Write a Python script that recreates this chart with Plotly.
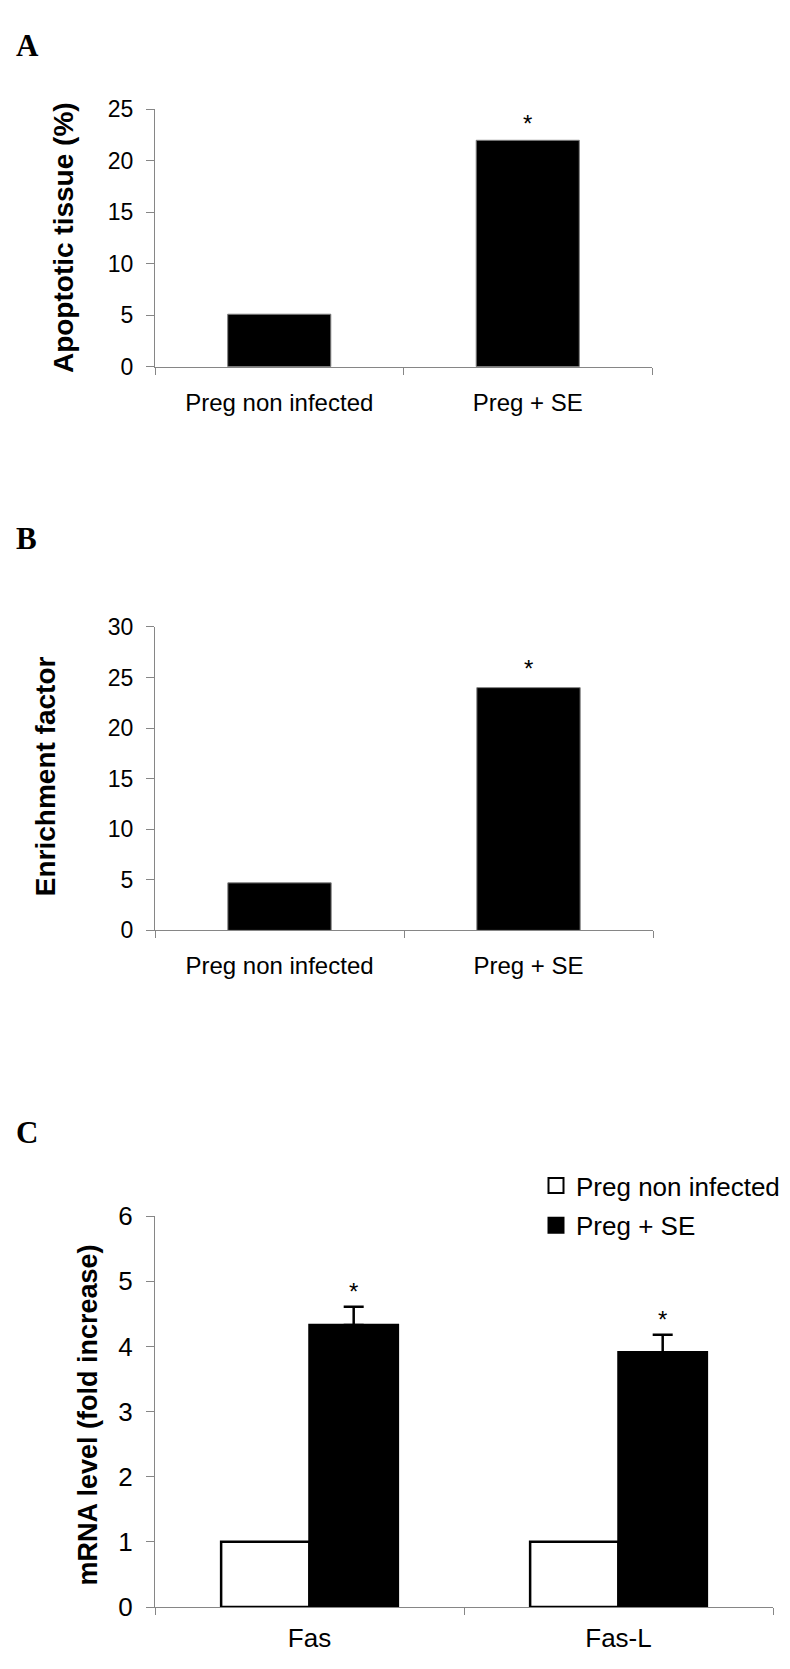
import plotly.graph_objects as go

# ---------------- data ----------------
groups_ab = ["Preg non infected", "Preg + SE"]
apoptotic_tissue = [5.1, 22.0]
enrichment_factor = [4.7, 24.0]

genes = ["Fas", "Fas-L"]
series_names = ["Preg non infected", "Preg + SE"]
mrna_non_infected = [1.0, 1.0]
mrna_se = [4.33, 3.91]
mrna_se_err = [0.28, 0.27]

yticks_a = [0, 5, 10, 15, 20, 25]
yticks_b = [0, 5, 10, 15, 20, 25, 30]
yticks_c = [0, 1, 2, 3, 4, 5, 6]

# ---------------- layout helpers ----------------
W, H = 790, 1669
def px_x(x):
    return x / W
def px_y(y):
    return 1 - y / H

SANS = "Arial, Liberation Sans, sans-serif"
SERIF = "Times New Roman, Liberation Serif, serif"
AXC = "#868686"

fig = go.Figure()

# Panel A
fig.add_trace(go.Bar(x=groups_ab, y=apoptotic_tissue, xaxis="x", yaxis="y",
                     marker=dict(color="black", line=dict(color="#808080", width=1)),
                     width=0.415, showlegend=False))
# Panel B
fig.add_trace(go.Bar(x=groups_ab, y=enrichment_factor, xaxis="x2", yaxis="y2",
                     marker=dict(color="black", line=dict(color="#808080", width=1)),
                     width=0.415, showlegend=False))
# Panel C
fig.add_trace(go.Bar(x=genes, y=mrna_non_infected, xaxis="x3", yaxis="y3",
                     name=series_names[0], showlegend=False,
                     marker=dict(color="white", line=dict(color="black", width=2.5))))
fig.add_trace(go.Bar(x=genes, y=mrna_se, xaxis="x3", yaxis="y3",
                     name=series_names[1], showlegend=False,
                     marker=dict(color="black", line=dict(color="black", width=2.5)),
                     error_y=dict(type="data", symmetric=False, array=mrna_se_err,
                                  arrayminus=[0] * len(mrna_se_err),
                                  color="black", thickness=2.5, width=10)))
# legend entries (square swatches like the original)
for name, col, grp in [(series_names[0], "white", "a"), (series_names[1], "black", "b")]:
    fig.add_trace(go.Scatter(x=[None], y=[None], xaxis="x3", yaxis="y3", mode="markers",
                             name=name, legendgroup=grp, showlegend=True,
                             marker=dict(symbol="square", size=15, color=col,
                                         line=dict(color="black", width=2))))

def yax(domain, rng, ticks, size, anchor):
    return dict(domain=domain, range=rng, tickvals=ticks, anchor=anchor,
                showline=True, linecolor=AXC, linewidth=1,
                ticks="outside", tickcolor=AXC, ticklen=8, tickwidth=1,
                ticklabelstandoff=8,
                showgrid=False, zeroline=False, fixedrange=True,
                tickfont=dict(family=SANS, size=size, color="black"))

def xax(domain, size, anchor, standoff):
    return dict(domain=domain, anchor=anchor, type="category",
                showline=True, linecolor=AXC, linewidth=1,
                ticks="outside", tickson="boundaries", tickcolor=AXC, ticklen=7,
                ticklabelstandoff=standoff,
                showgrid=False, zeroline=False, fixedrange=True,
                tickfont=dict(family=SANS, size=size, color="black"))

fig.update_layout(
    width=W, height=H, autosize=False,
    margin=dict(l=0, r=0, t=0, b=0),
    paper_bgcolor="white", plot_bgcolor="white",
    barmode="group", bargap=0.428, bargroupgap=0,
    xaxis=xax([px_x(147), px_x(644)], 24, "y", 14),
    yaxis=yax([px_y(350), px_y(88)], [0, 25], yticks_a, 23, "x"),
    xaxis2=xax([px_x(147), px_x(645)], 24, "y2", 14),
    yaxis2=yax([px_y(924), px_y(615)], [0, 30], yticks_b, 23, "x2"),
    xaxis3=xax([px_x(147), px_x(765)], 26, "y3", 8),
    yaxis3=yax([px_y(1613), px_y(1215)], [0, 6], yticks_c, 26, "x3"),
    legend=dict(x=px_x(528), y=px_y(1160), xanchor="left", yanchor="top",
                traceorder="grouped", tracegroupgap=3, itemsizing="trace",
                font=dict(family=SANS, size=26, color="black"),
                bgcolor="rgba(0,0,0,0)"),
)

annotations = []
# y-axis titles
for text, xc, yc, size in [("Apoptotic tissue (%)", 55, 219, 28),
                           ("Enrichment factor", 37, 767, 28),
                           ("mRNA level (fold increase)", 80, 1418, 27)]:
    annotations.append(dict(text="<b>%s</b>" % text, xref="paper", yref="paper",
                            x=px_x(xc), y=px_y(yc), xanchor="center", yanchor="middle",
                            textangle=-90, showarrow=False,
                            font=dict(family=SANS, size=size, color="black")))
# panel letters
for letter, yc in [("A", 23), ("B", 525), ("C", 1130)]:
    annotations.append(dict(text="<b>%s</b>" % letter, xref="paper", yref="paper",
                            x=px_x(6), y=px_y(yc), xanchor="left", yanchor="middle",
                            showarrow=False,
                            font=dict(family=SERIF, size=31, color="black")))
# significance asterisks
annotations.append(dict(text="*", xref="x", yref="y", x=groups_ab[1], y=apoptotic_tissue[1],
                        yanchor="middle", yshift=17, showarrow=False,
                        font=dict(family=SANS, size=24, color="black")))
annotations.append(dict(text="*", xref="x2", yref="y2", x=groups_ab[1], y=enrichment_factor[1],
                        yanchor="middle", yshift=19, showarrow=False,
                        font=dict(family=SANS, size=24, color="black")))
for i, g in enumerate(genes):
    annotations.append(dict(text="*", xref="x3", yref="y3", x=g, xshift=44,
                            y=mrna_se[i] + mrna_se_err[i],
                            yanchor="middle", yshift=15, showarrow=False,
                            font=dict(family=SANS, size=24, color="black")))
fig.update_layout(annotations=annotations)

fig.write_html("out.html")
